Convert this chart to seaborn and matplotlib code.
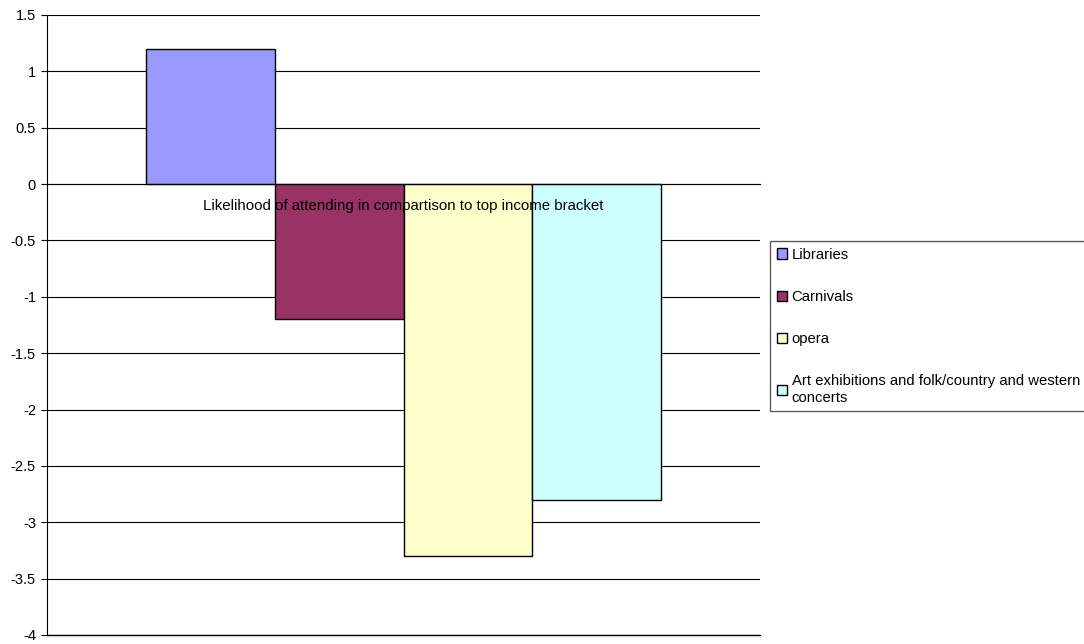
import matplotlib
matplotlib.use("Agg")
import matplotlib.pyplot as plt
import seaborn as sns
import pandas as pd

# Survey result: likelihood of attending, relative to the top income bracket
category = "Likelihood of attending in compartison to top income bracket"
series = ["Libraries", "Carnivals", "opera",
          "Art exhibitions and folk/country and western\nconcerts"]
values = [1.2, -1.2, -3.3, -2.8]
colors = ["#9999FF", "#993366", "#FFFFCC", "#CCFFFF"]
yticks = [1.5, 1, 0.5, 0, -0.5, -1, -1.5, -2, -2.5, -3, -3.5, -4]
ytick_labels = ["1.5", "1", "0.5", "0", "-0.5", "-1", "-1.5", "-2", "-2.5", "-3", "-3.5", "-4"]

df = pd.DataFrame({"category": [category] * len(series),
                   "series": series, "value": values})

sns.set_theme(style="white")
plt.rcParams["font.family"] = ["Liberation Sans", "DejaVu Sans"]

fig = plt.figure(figsize=(10.84, 6.44), dpi=100)
ax = fig.add_axes([47 / 1084, 1 - 635 / 644, 713 / 1084, 620 / 644])

sns.barplot(data=df, x="category", y="value", hue="series",
            palette=colors, hue_order=series, width=0.722,
            edgecolor="black", linewidth=1.0, saturation=1.0, ax=ax)

ax.set_ylim(-4, 1.5)
ax.set_xlim(-0.5, 0.5)
ax.set_yticks(yticks)
ax.set_yticklabels(ytick_labels, fontsize=10.5, color="black")
ax.set_xlabel("")
ax.set_ylabel("")

# horizontal gridlines behind bars; category label on top of bars
ax.set_axisbelow(True)
ax.yaxis.grid(True, color="black", linewidth=0.8)
ax.xaxis.set_zorder(3)
ax.tick_params(axis="y", direction="out", length=4, width=0.8,
               color="black", pad=4, left=True)
ax.tick_params(axis="x", length=0, pad=11, labelsize=10.8, labelcolor="black")

for side in ["top", "right"]:
    ax.spines[side].set_visible(False)
ax.spines["left"].set_color("black")
ax.spines["left"].set_linewidth(0.8)
ax.spines["bottom"].set_position(("data", 0))
ax.spines["bottom"].set_color("black")
ax.spines["bottom"].set_linewidth(0.8)
ax.axhline(-4, color="black", linewidth=1.0, clip_on=False, zorder=0.6)

handles, labels = ax.get_legend_handles_labels()
ax.get_legend().remove()
leg = fig.legend(handles, labels, loc="upper left",
                 bbox_to_anchor=(770 / 1084, 1 - 241 / 644),
                 frameon=True, fancybox=False, shadow=False,
                 fontsize=10.7, labelspacing=1.9, handlelength=0.7,
                 handleheight=0.7, handletextpad=0.3, borderpad=0.45,
                 borderaxespad=0)
leg.get_frame().set_edgecolor("#333333")
leg.get_frame().set_linewidth(1.0)
for t in leg.get_texts():
    t.set_color("black")

fig.savefig("out.png", dpi=100)
